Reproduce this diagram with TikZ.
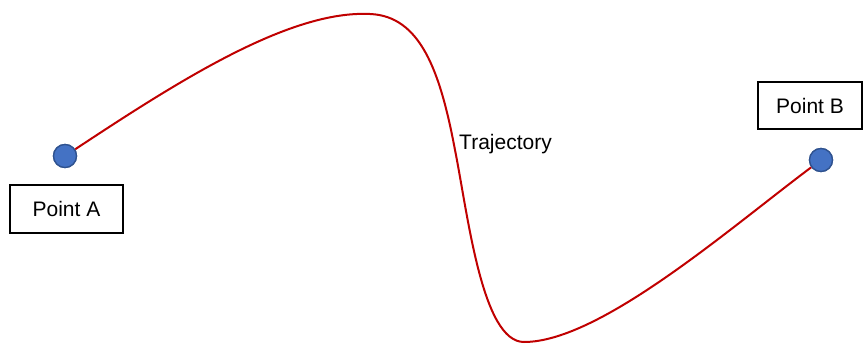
\documentclass[tikz,border=0pt]{standalone}
\usepackage{fontspec}
\setmainfont{Liberation Sans}
\definecolor{ptfill}{HTML}{4472C4}
\definecolor{ptdraw}{HTML}{2F528F}
\definecolor{traj}{HTML}{C00000}
\begin{document}
\begin{tikzpicture}[x=1pt,y=-1pt,
  lbl/.style={draw=black,line width=2pt,minimum width=113pt,minimum height=48pt,inner sep=0pt,font=\fontsize{21}{24}\selectfont},
  pt/.style={circle,fill=ptfill,draw=ptdraw,line width=1.3pt,minimum size=23pt,inner sep=0pt},
  trajline/.style={draw=traj,line width=2pt}]
\useasboundingbox (0,0) rectangle (865,343);
\node[lbl] (la) at (66.5,208.5) {Point A};
\node[lbl,minimum width=104pt,minimum height=47pt] (lb) at (810,105.5) {Point B};
\node[font=\fontsize{21}{24}\selectfont,inner sep=0pt,anchor=west] (lt) at (459,144) {Trajectory};
\coordinate (top) at (370,14);
\coordinate (mid) at (455,150);
\coordinate (bot) at (524,342);
\node[pt] (a) at (65,156) {};
\node[pt] (b) at (821,160) {};
\draw[trajline] (a) .. controls (180,80) and (290,10) .. (top)
  .. controls (420,16) and (440,70) .. (mid)
  .. controls (468,215) and (482,342) .. (bot)
  .. controls (600,342) and (730,228) .. (b);
\node[pt] at (a) {};
\node[pt] at (b) {};
\end{tikzpicture}
\end{document}
